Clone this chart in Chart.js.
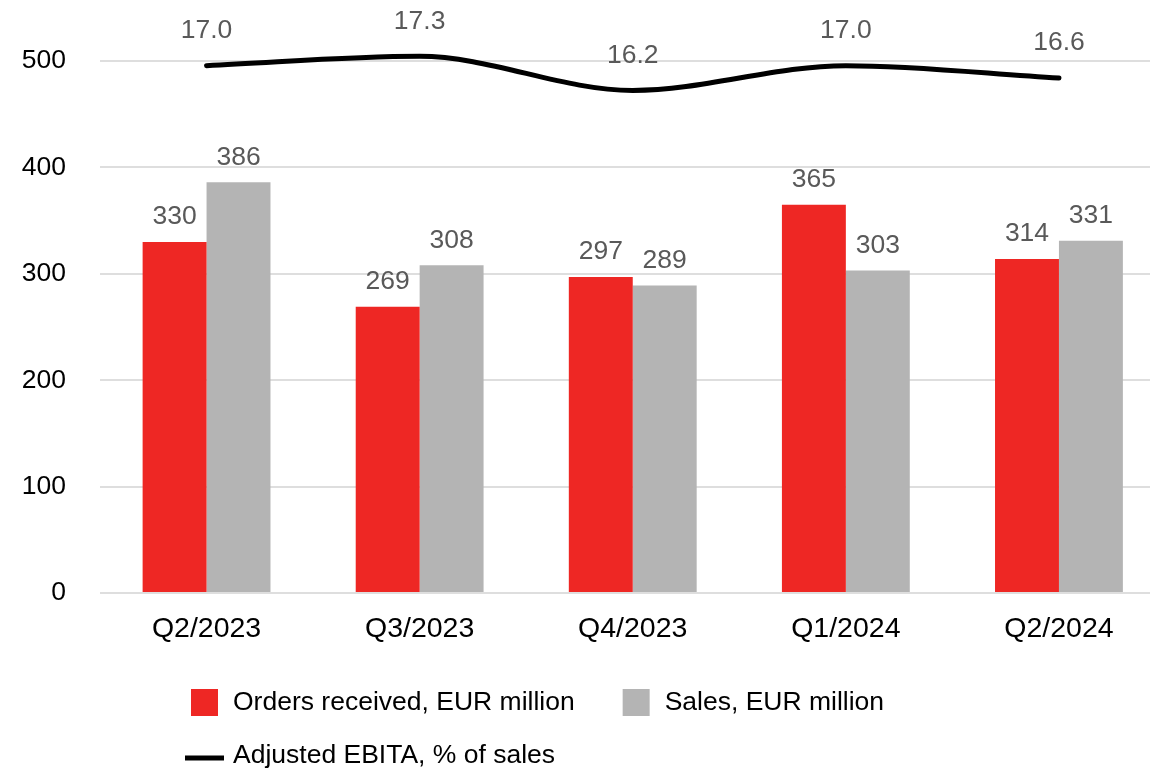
<!DOCTYPE html>
<html>
<head>
<meta charset="utf-8">
<title>Orders, sales and adjusted EBITA</title>
<script src="https://cdn.jsdelivr.net/npm/chart.js@4.4.1/dist/chart.umd.min.js"></script>
<style>
  html, body { margin: 0; padding: 0; overflow: hidden; background: #fff; }
  #wrap { width: 1150px; height: 770px; overflow: hidden; }
  canvas { display: block; }
</style>
</head>
<body>
<div id="wrap">
  <canvas id="chartCanvas" width="1170" height="770"></canvas>
</div>
<script>
// quarterly figures
const quarters = ['Q2/2023', 'Q3/2023', 'Q4/2023', 'Q1/2024', 'Q2/2024'];
const ordersReceived = [330, 269, 297, 365, 314];
const sales = [386, 308, 289, 303, 331];
const adjustedEbita = [17.0, 17.3, 16.2, 17.0, 16.6];
const leftTicks = [0, 100, 200, 300, 400, 500];

const FONT = "'Liberation Sans', Arial, sans-serif";
const RED = '#ee2724';
const GREY = '#b4b4b4';
const VALUE_COLOR = '#595959';

// value labels above bars and line points
const valueLabels = {
  id: 'valueLabels',
  afterDatasetsDraw(chart) {
    const ctx = chart.ctx;
    ctx.save();
    ctx.font = '26.5px ' + FONT;
    ctx.fillStyle = VALUE_COLOR;
    ctx.textAlign = 'center';
    ctx.textBaseline = 'middle';
    chart.data.datasets.forEach((ds, i) => {
      const meta = chart.getDatasetMeta(i);
      meta.data.forEach((el, j) => {
        const v = ds.data[j];
        if (ds.type === 'line') {
          ctx.fillText(v.toFixed(1), el.x, el.y - 35);
        } else {
          ctx.fillText(String(v), el.x, el.y - 25);
        }
      });
    });
    ctx.restore();
  }
};

// legend: two entries on the first row, the line entry below, text left edges aligned
const bottomLegend = {
  id: 'bottomLegend',
  afterDraw(chart) {
    const ctx = chart.ctx;
    const ds = chart.data.datasets;
    const textX = 233;
    const row1 = 703, row2 = 756;
    ctx.save();
    ctx.font = '26.5px ' + FONT;
    ctx.textBaseline = 'middle';
    ctx.textAlign = 'left';
    ctx.fillStyle = '#000';

    // bar entries
    let x = textX;
    [ds[0], ds[1]].forEach(d => {
      ctx.fillStyle = d.backgroundColor;
      ctx.fillRect(x - 42, row1 - 14, 27, 27);
      ctx.fillStyle = '#000';
      ctx.fillText(d.label, x, row1);
      x += ctx.measureText(d.label).width + 90;
    });

    // line entry
    ctx.strokeStyle = ds[2].borderColor;
    ctx.lineWidth = 5;
    ctx.beginPath();
    ctx.moveTo(185, row2 + 2);
    ctx.lineTo(224, row2 + 2);
    ctx.stroke();
    ctx.fillText(ds[2].label, textX, row2);
    ctx.restore();
  }
};

const chart = new Chart(document.getElementById('chartCanvas'), {
  type: 'bar',
  data: {
    labels: quarters,
    datasets: [
      {
        label: 'Orders received, EUR million',
        data: ordersReceived,
        backgroundColor: RED,
        categoryPercentage: 0.6,
        barPercentage: 1.0,
        order: 2
      },
      {
        label: 'Sales, EUR million',
        data: sales,
        backgroundColor: GREY,
        categoryPercentage: 0.6,
        barPercentage: 1.0,
        order: 2
      },
      {
        type: 'line',
        label: 'Adjusted EBITA, % of sales',
        data: adjustedEbita,
        yAxisID: 'y1',
        borderColor: '#000',
        borderWidth: 5,
        borderCapStyle: 'round',
        pointRadius: 0,
        cubicInterpolationMode: 'monotone',
        clip: false,
        order: 1
      }
    ]
  },
  options: {
    responsive: false,
    animation: false,
    devicePixelRatio: 1,
    layout: { padding: { top: 61, right: 4.5, bottom: 117, left: 0 } },
    plugins: {
      legend: { display: false },
      tooltip: { enabled: false }
    },
    scales: {
      x: {
        grid: { display: false },
        border: { display: false },
        ticks: {
          color: '#000',
          font: { family: FONT, size: 28.5 },
          padding: 11
        },
        afterFit(scale) { scale.height = 60; }
      },
      y: {
        min: 0,
        max: 500,
        afterBuildTicks(scale) { scale.ticks = leftTicks.map(v => ({ value: v })); },
        grid: { color: '#dedede', lineWidth: 2, drawTicks: false },
        border: { display: false },
        ticks: {
          color: '#000',
          font: { family: FONT, size: 26.5 },
          padding: 34
        },
        afterFit(scale) { scale.width = 100; }
      },
      y1: {
        display: false,
        min: 0,
        max: 17.15
      }
    }
  },
  plugins: [valueLabels, bottomLegend]
});
</script>
</body>
</html>
